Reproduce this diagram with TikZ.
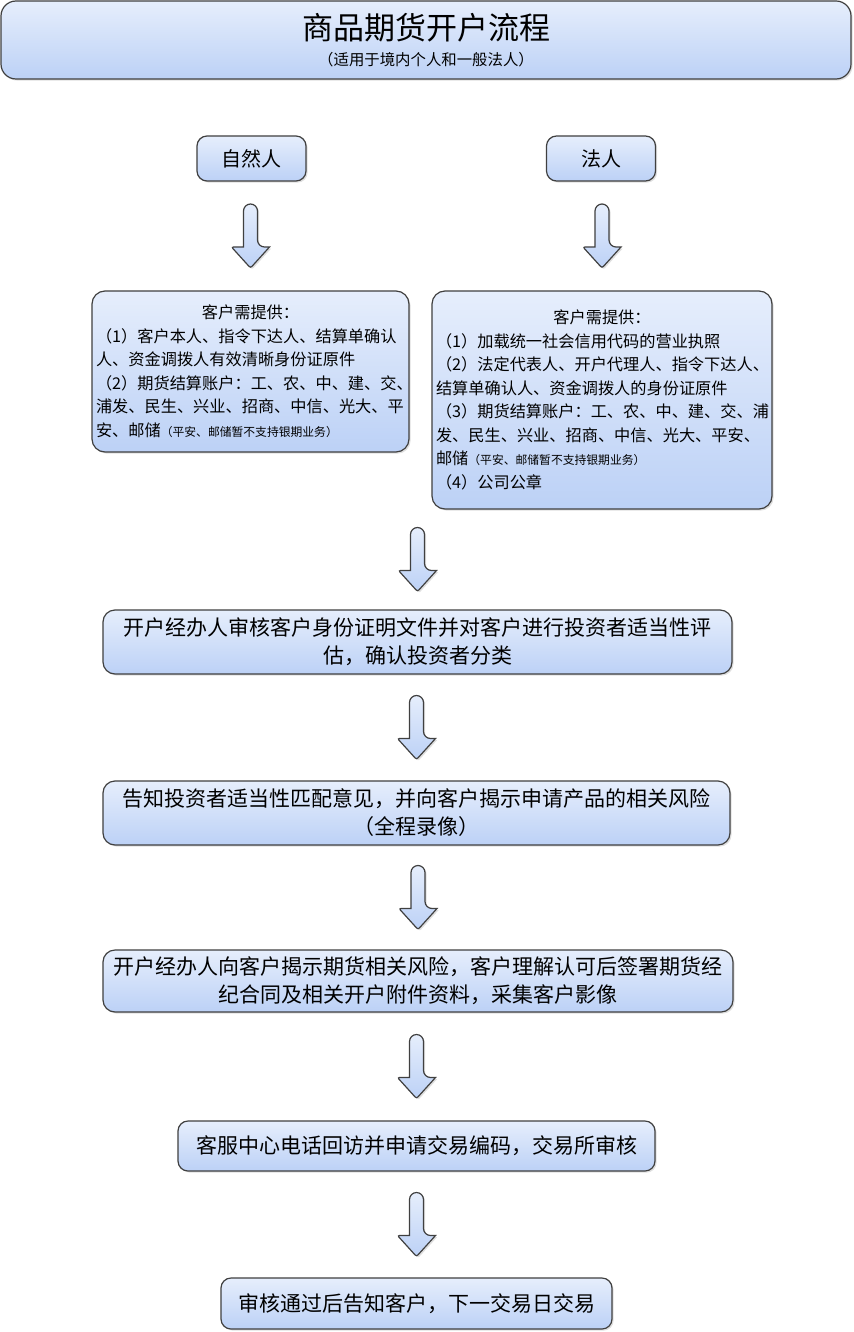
\documentclass[tikz,border=0pt]{standalone}
\usepackage{fontspec}
\setmainfont{Noto Sans CJK SC}
\usepackage{xcolor}
\usepackage{tikz}
\usetikzlibrary{calc}
\usetikzlibrary{shadows}

\definecolor{boxtop}{HTML}{E6EEFC}
\definecolor{boxbottom}{HTML}{BCD1F6}
\definecolor{boxline}{HTML}{404040}

\newcommand{\titlefont}{\fontsize{15.5pt}{18pt}\selectfont}
\newcommand{\subtitlefont}{\fontsize{7.7pt}{9pt}\selectfont}
\newcommand{\typefont}{\fontsize{10pt}{12pt}\selectfont}
\newcommand{\listfont}{\fontsize{8.1pt}{11.75pt}\selectfont}
\newcommand{\notesize}{\fontsize{5.9pt}{7pt}\selectfont}
\newcommand{\stepfont}{\fontsize{10.5pt}{14pt}\selectfont}

\tikzset{
  pics/downarrow/.style={code={
    \draw[flowbox] (-7,11) [rounded corners=3.5pt] -- (-7,-32) -- (7,-32) -- (7,11)
      [sharp corners] -- (19,11) [rounded corners=1pt] -- (0,32) -- (-19,11) [sharp corners] -- cycle;
  }}
}
\newcommand{\flowarrow}[2]{\pic at ($(#1.south -| #2.north)!0.5!(#2.north)$) {downarrow};}

\begin{document}
\begin{tikzpicture}[x=0.5pt,y=-0.5pt,
  flowbox/.style={draw=boxline,line width=0.6pt,top color=boxtop,bottom color=boxbottom,
    drop shadow={opacity=0.25,shadow xshift=0.8pt,shadow yshift=-0.8pt}},
  typebox/.style={flowbox,rounded corners=5pt,minimum width=54.5pt,minimum height=22.5pt,font=\typefont},
  needbox/.style={flowbox,rounded corners=6.5pt,align=left,inner xsep=2pt,font=\listfont},
  stepbox/.style={flowbox,rounded corners=6pt,align=center,minimum height=32pt,font=\stepfont}]
\fill[white] (0,0) rectangle (854,1332);
\useasboundingbox (0,0) rectangle (854,1332);

% Title
\node[flowbox,rounded corners=7.5pt,minimum width=425pt,minimum height=39pt,align=center] (title) at (426,40)
  {{\titlefont 商品期货开户流程}\\[1pt]{\subtitlefont （适用于境内个人和一般法人）}};

% Client types
\node[typebox] (natural) at (251.5,158.5) {自然人};
\node[typebox] (legal) at (601,158.5) {法人};

% Documents to provide
\node[needbox,text width=154.5pt,minimum height=80.5pt] (needL) at (250.5,371.5) {%
  \makebox[\linewidth]{客户需提供：}\\
  （1）客户本人、指令下达人、结算单确认\\
  人、资金调拨人有效清晰身份证原件\\
  （2）期货结算账户：工、农、中、建、交、\\
  浦发、民生、兴业、招商、中信、光大、平\\
  安、邮储{\notesize （平安、邮储暂不支持银期业务）}};
\node[needbox,text width=166pt,minimum height=109pt] (needR) at (602,400) {%
  \makebox[\linewidth]{客户需提供：}\\
  （1）加载统一社会信用代码的营业执照\\
  （2）法定代表人、开户代理人、指令下达人、\\
  结算单确认人、资金调拨人的身份证原件\\
  （3）期货结算账户：工、农、中、建、交、浦\\
  发、民生、兴业、招商、中信、光大、平安、\\
  邮储{\notesize （平安、邮储暂不支持银期业务）}\\
  （4）公司公章};

% Steps
\node[stepbox,minimum width=314.5pt] (check) at (417.5,642)
  {开户经办人审核客户身份证明文件并对客户进行投资者适当性评\\估，确认投资者分类};
\node[stepbox,minimum width=313.5pt] (inform) at (416.5,813)
  {告知投资者适当性匹配意见，并向客户揭示申请产品的相关风险\\（全程录像）};
\node[stepbox,minimum width=315pt,minimum height=31pt] (sign) at (418,981)
  {开户经办人向客户揭示期货相关风险，客户理解认可后签署期货经\\纪合同及相关开户附件资料，采集客户影像};
\node[stepbox,rounded corners=5pt,minimum width=238.5pt,minimum height=25pt] (visit) at (416.5,1146)
  {客服中心电话回访并申请交易编码，交易所审核};
\node[stepbox,rounded corners=5pt,minimum width=195.5pt,minimum height=25.5pt] (notify) at (416.5,1303.5)
  {审核通过后告知客户，下一交易日交易};

% Arrows
\flowarrow{natural}{needL}
\flowarrow{legal}{needR}
\flowarrow{needR}{check}
\flowarrow{check}{inform}
\flowarrow{inform}{sign}
\flowarrow{sign}{visit}
\flowarrow{visit}{notify}
\end{tikzpicture}
\end{document}
